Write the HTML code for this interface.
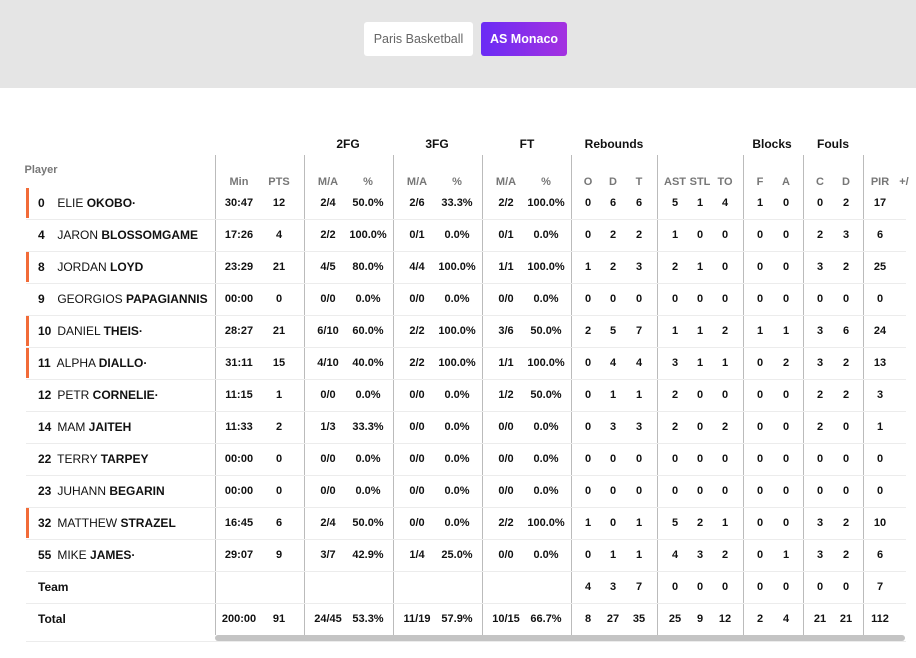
<!DOCTYPE html>
<html><head><meta charset="utf-8"><style>
*{margin:0;padding:0;box-sizing:border-box}
body{width:916px;height:658px;background:#fff;font-family:"Liberation Sans",sans-serif;position:relative;overflow:hidden;color:#111}
.top{position:absolute;left:0;top:0;width:916px;height:88px;background:#e5e5e5}
.btn{position:absolute;top:22px;height:34px;border-radius:3px;font-size:12.5px;line-height:34px;text-align:center}
.t{position:absolute;white-space:nowrap;transform:translate(-50%,-50%);font-size:11px;font-weight:bold}
.h{position:absolute;white-space:nowrap;transform:translate(-50%,-50%);font-size:12px;font-weight:bold}
.s{position:absolute;white-space:nowrap;transform:translate(-50%,-50%);font-size:11px;font-weight:bold;color:#777}
.v{position:absolute;width:1px;background:#bbb;top:155px;height:480px}
.sep{position:absolute;left:26px;width:880px;height:1px;background:#ececec}
.bar{position:absolute;left:26px;width:3px;height:30px;background:#f26b38}
.nm{position:absolute;left:38px;font-size:12px;white-space:nowrap;transform:translateY(-50%)}
.nm b.n{display:inline-block;width:16px;font-weight:bold}
</style></head><body>
<div class="top"></div>
<div class="btn" style="left:364px;width:109px;background:#fff;color:#666">Paris Basketball</div>
<div class="btn" style="left:481px;width:86px;background:linear-gradient(90deg,#6a2cf5,#a431e0);color:#fff;font-weight:bold">AS Monaco</div>
<div id="root"></div>
<script>
var r=document.getElementById('root'),h='';
var vx=[215,304,393,482,571,657,743,803,863];
vx.forEach(function(x){h+='<div class="v" style="left:'+x+'px"></div>'});
[['2FG',348],['3FG',437],['FT',527],['Rebounds',614],['Blocks',772],['Fouls',833]].forEach(function(g){h+='<div class="h" style="left:'+g[1]+'px;top:144px">'+g[0]+'</div>'});
h+='<div class="s" style="left:41px;top:170px">Player</div>';
var cx=[239,279,328,368,417,457,506,546,588,613,639,675,700,725,760,786,820,846,880];
var sh=['Min','PTS','M/A','%','M/A','%','M/A','%','O','D','T','AST','STL','TO','F','A','C','D','PIR'];
sh.forEach(function(s,i){h+='<div class="s" style="left:'+cx[i]+'px;top:182px">'+s+'</div>'});
h+='<div class="s" style="left:904px;top:182px">+/</div>';
var rows=[
['0','ELIE','OKOBO·',1,'30:47 12 2/4 50.0% 2/6 33.3% 2/2 100.0% 0 6 6 5 1 4 1 0 0 2 17'],
['4','JARON','BLOSSOMGAME',0,'17:26 4 2/2 100.0% 0/1 0.0% 0/1 0.0% 0 2 2 1 0 0 0 0 2 3 6'],
['8','JORDAN','LOYD',1,'23:29 21 4/5 80.0% 4/4 100.0% 1/1 100.0% 1 2 3 2 1 0 0 0 3 2 25'],
['9','GEORGIOS','PAPAGIANNIS',0,'00:00 0 0/0 0.0% 0/0 0.0% 0/0 0.0% 0 0 0 0 0 0 0 0 0 0 0'],
['10','DANIEL','THEIS·',1,'28:27 21 6/10 60.0% 2/2 100.0% 3/6 50.0% 2 5 7 1 1 2 1 1 3 6 24'],
['11','ALPHA','DIALLO·',1,'31:11 15 4/10 40.0% 2/2 100.0% 1/1 100.0% 0 4 4 3 1 1 0 2 3 2 13'],
['12','PETR','CORNELIE·',0,'11:15 1 0/0 0.0% 0/0 0.0% 1/2 50.0% 0 1 1 2 0 0 0 0 2 2 3'],
['14','MAM','JAITEH',0,'11:33 2 1/3 33.3% 0/0 0.0% 0/0 0.0% 0 3 3 2 0 2 0 0 2 0 1'],
['22','TERRY','TARPEY',0,'00:00 0 0/0 0.0% 0/0 0.0% 0/0 0.0% 0 0 0 0 0 0 0 0 0 0 0'],
['23','JUHANN','BEGARIN',0,'00:00 0 0/0 0.0% 0/0 0.0% 0/0 0.0% 0 0 0 0 0 0 0 0 0 0 0'],
['32','MATTHEW','STRAZEL',1,'16:45 6 2/4 50.0% 0/0 0.0% 2/2 100.0% 1 0 1 5 2 1 0 0 3 2 10'],
['55','MIKE','JAMES·',0,'29:07 9 3/7 42.9% 1/4 25.0% 0/0 0.0% 0 1 1 4 3 2 0 1 3 2 6'],
['','Team','',0,'_ _ _ _ _ _ _ _ 4 3 7 0 0 0 0 0 0 0 7'],
['','Total','',0,'200:00 91 24/45 53.3% 11/19 57.9% 10/15 66.7% 8 27 35 25 9 12 2 4 21 21 112']];
rows.forEach(function(rw,i){
 var top=187+32*i,cy=top+16;
 if(rw[3])h+='<div class="bar" style="top:'+(top+1)+'px"></div>';
 if(rw[0])h+='<div class="nm" style="top:'+cy+'px"><b class="n">'+rw[0]+'</b> '+rw[1]+' <b>'+rw[2]+'</b></div>';
 else h+='<div class="nm" style="top:'+cy+'px"><b>'+rw[1]+'</b></div>';
 rw[4].split(' ').forEach(function(v,j){if(v!='_')h+='<div class="t" style="left:'+cx[j]+'px;top:'+cy+'px">'+v+'</div>'});
 if(i<13)h+='<div class="sep" style="top:'+(top+32)+'px"></div>';
});
h+='<div class="sep" style="top:641px"></div>';
h+='<div style="position:absolute;left:215px;top:635px;width:690px;height:6px;border-radius:3px;background:#c4c4c4"></div>';
r.innerHTML=h;
</script>
</body></html>
